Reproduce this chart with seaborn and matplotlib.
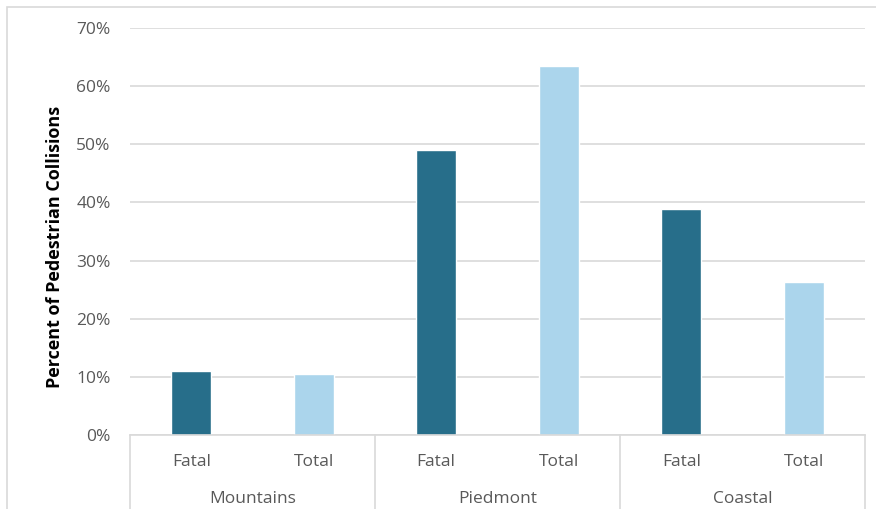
import matplotlib
matplotlib.use("Agg")
import matplotlib.pyplot as plt
import matplotlib.transforms as mtransforms
from matplotlib.patches import Rectangle
import seaborn as sns
import pandas as pd

regions = ["Mountains", "Piedmont", "Coastal"]
kinds = ["Fatal", "Total"]
fatal = [11.0, 49.0, 38.8]
total = [10.5, 63.5, 26.3]
yticks = [0, 10, 20, 30, 40, 50, 60, 70]

rows = []
for i, r in enumerate(regions):
    rows.append({"slot": f"{r} Fatal", "region": r, "kind": "Fatal", "value": fatal[i]})
    rows.append({"slot": f"{r} Total", "region": r, "kind": "Total", "value": total[i]})
df = pd.DataFrame(rows)

sns.set_theme(style="white")
plt.rcParams["font.family"] = ["Open Sans", "DejaVu Sans"]

fig = plt.figure(figsize=(8.76, 5.09), dpi=100)
ax = fig.add_axes([130 / 876, (509 - 435) / 509, 735 / 876, 407 / 509])

sns.barplot(data=df, x="slot", y="value", hue="kind", dodge=False, width=0.33,
            palette={"Fatal": "#276E8A", "Total": "#ABD5EC"}, legend=False, ax=ax,
            saturation=1)

ax.set_ylim(0, 70)
ax.set_xlim(-0.5, len(df) - 0.5)
ax.set_yticks(yticks)
ax.set_yticklabels([f"{t}%" for t in yticks], color="#595959", fontsize=12.5)
ax.yaxis.grid(True, color="#D9D9D9", linewidth=1.2)
ax.set_axisbelow(True)
for s in ["top", "right", "left"]:
    ax.spines[s].set_visible(False)
ax.spines["bottom"].set_color("#D9D9D9")
ax.spines["bottom"].set_linewidth(1.2)
ax.tick_params(axis="y", length=0, pad=14)
ax.tick_params(axis="x", length=0, pad=14)
ax.set_xticks(range(len(df)))
ax.set_xticklabels(df["kind"], color="#595959", fontsize=12.5)
ax.set_xlabel("")
ax.set_ylabel("Percent of Pedestrian Collisions", fontsize=13, fontweight="bold",
              color="black")
ax.yaxis.set_label_coords(-0.09, 0.462)

# group labels and separators below the axis
trans = mtransforms.blended_transform_factory(ax.transData, ax.transAxes)
for i, r in enumerate(regions):
    ax.text(2 * i + 0.5, -0.158, r, transform=trans, ha="center", va="center",
            color="#595959", fontsize=12.5)
for b in range(len(regions) + 1):
    ax.plot([2 * b - 0.5, 2 * b - 0.5], [0, -0.2], transform=trans,
            color="#D9D9D9", linewidth=1.2, clip_on=False)

fig.patches.append(Rectangle((7 / 876, -0.1), 1.2, (509 - 7) / 509 + 0.1,
                             transform=fig.transFigure, fill=False,
                             edgecolor="#D9D9D9", linewidth=1.2))

fig.savefig("out.png", dpi=100)
